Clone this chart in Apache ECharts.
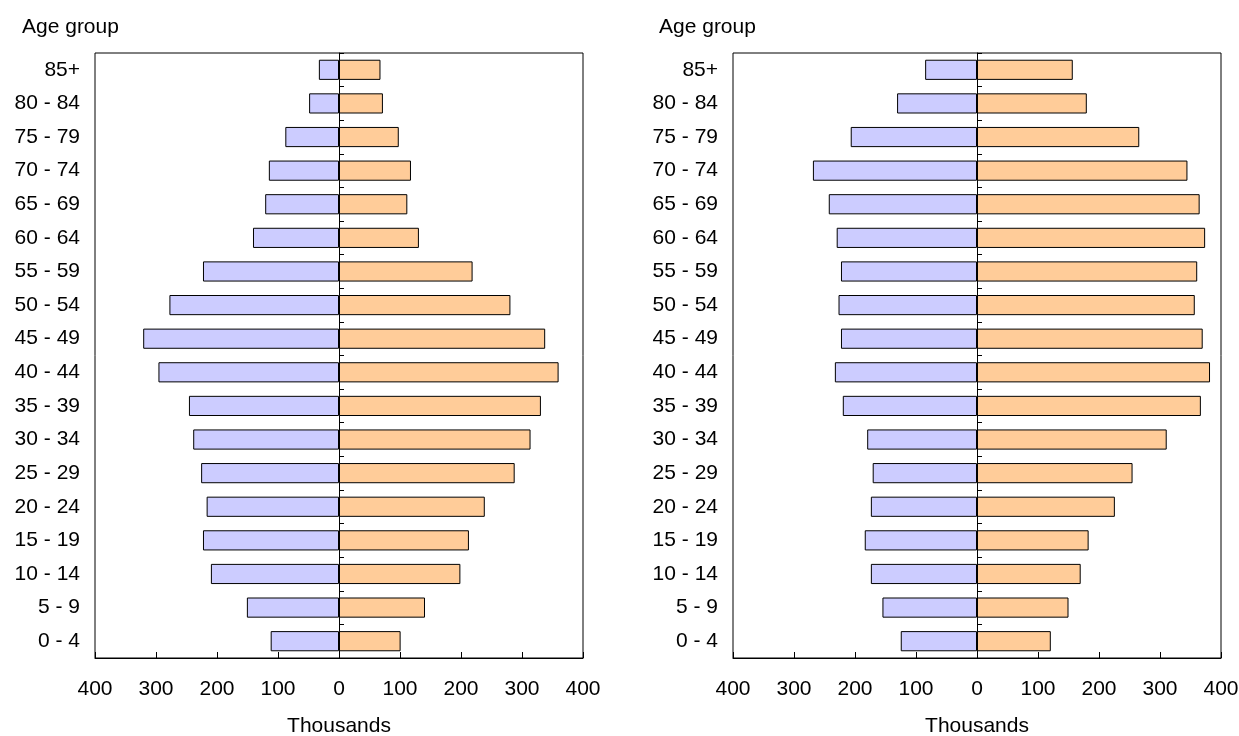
<!DOCTYPE html>
<html>
<head>
<meta charset="utf-8">
<script src="https://cdn.jsdelivr.net/npm/echarts@6/dist/echarts.min.js"></script>
<style>
html,body{margin:0;padding:0;background:#fff;}
#chart{width:1239px;height:736px;}
</style>
</head>
<body>
<div id="chart"></div>
<script>
const ageGroups = ["0 - 4","5 - 9","10 - 14","15 - 19","20 - 24","25 - 29","30 - 34","35 - 39","40 - 44","45 - 49","50 - 54","55 - 59","60 - 64","65 - 69","70 - 74","75 - 79","80 - 84","85+"];
const xTicks = [-400,-300,-200,-100,0,100,200,300,400];
// Left pyramid (thousands)
const leftMale   = [112,151,210,223,217,226,239,246,296,321,278,223,141,121,115,88,49,33];
const leftFemale = [101,141,199,213,239,288,314,331,360,338,281,219,131,112,118,98,72,68];
// Right pyramid (thousands)
const rightMale   = [125,155,174,184,174,171,180,220,233,223,227,223,230,243,269,207,131,85];
const rightFemale = [121,150,170,183,226,255,311,367,382,370,357,361,374,365,345,266,180,157];

const FONT = '"Liberation Sans", Arial, sans-serif';
const FS = 21;
const blue = '#CCCCFF', orange = '#FFCC99';

const grids = [
  {left:95, right:656, top:53, bottom:78},
  {left:733, right:18, top:53, bottom:78}
];

const xAxis = [], yAxis = [], series = [];
// main visible x axes (indices 0,1)
grids.forEach((g, i) => {
  xAxis.push({
    type:'value', gridIndex:i, min:xTicks[0], max:xTicks[xTicks.length-1], interval:100,
    axisLine:{show:true, onZero:false, lineStyle:{color:'#000', width:1}},
    axisTick:{show:true, inside:true, length:6, lineStyle:{color:'#000'}},
    axisLabel:{color:'#000', fontFamily:FONT, fontSize:FS, margin:21, formatter:v=>String(Math.abs(v))},
    splitLine:{show:false},
    name:'Thousands', nameLocation:'middle', nameGap:58,
    nameTextStyle:{color:'#000', fontFamily:FONT, fontSize:FS}
  });
});
// hidden helper x axes (indices 2,3) for the second zero-line axis
grids.forEach((g, i) => {
  xAxis.push({
    type:'value', gridIndex:i, min:xTicks[0], max:xTicks[xTicks.length-1], show:false,
    axisLine:{onZero:false}, splitLine:{show:false}
  });
});
grids.forEach((g, i) => {
  // labels axis
  yAxis.push({
    type:'category', gridIndex:i, data:ageGroups, position:'left',
    axisLine:{show:false, onZero:false},
    axisTick:{show:false},
    axisLabel:{color:'#000', fontFamily:FONT, fontSize:FS, margin:15},
    splitLine:{show:false}
  });
  // zero line with boundary ticks
  yAxis.push({
    type:'category', gridIndex:i, data:ageGroups, position:'left',
    axisLine:{show:true, onZero:true, onZeroAxisIndex:i, lineStyle:{color:'#000', width:1}},
    axisTick:{show:true, inside:true, length:5, lineStyle:{color:'#000'}},
    axisLabel:{show:false},
    splitLine:{show:false}
  });
  // center ticks
  yAxis.push({
    type:'category', gridIndex:i, data:ageGroups, position:'left',
    axisLine:{show:false, onZero:true, onZeroAxisIndex:i+2},
    axisTick:{show:true, inside:true, alignWithLabel:true, length:3, lineStyle:{color:'#000'}},
    axisLabel:{show:false},
    splitLine:{show:false}
  });
});

function addPyramid(i, male, female) {
  series.push({
    type:'bar', xAxisIndex:i, yAxisIndex:i*3, barGap:'-100%', barCategoryGap:'40%',
    data: male.map(v => -v),
    itemStyle:{color:blue, borderColor:'#000', borderWidth:1},
    silent:true
  });
  series.push({
    type:'bar', xAxisIndex:i, yAxisIndex:i*3, barGap:'-100%', barCategoryGap:'40%',
    data: female,
    itemStyle:{color:orange, borderColor:'#000', borderWidth:1},
    silent:true
  });
}
addPyramid(0, leftMale, leftFemale);
addPyramid(1, rightMale, rightFemale);

const chart = echarts.init(document.getElementById('chart'));
chart.setOption({
  animation:false,
  backgroundColor:'#fff',
  grid: grids.map(g => Object.assign({show:true, borderColor:'#000', borderWidth:1, backgroundColor:'transparent', containLabel:false, outerBoundsMode:'none'}, g)),
  xAxis, yAxis, series,
  graphic:[
    {type:'text', left:22, top:17, style:{text:'Age group', fill:'#000', font:FS+'px '+FONT}},
    {type:'text', left:659, top:17, style:{text:'Age group', fill:'#000', font:FS+'px '+FONT}}
  ]
});
</script>
</body>
</html>
